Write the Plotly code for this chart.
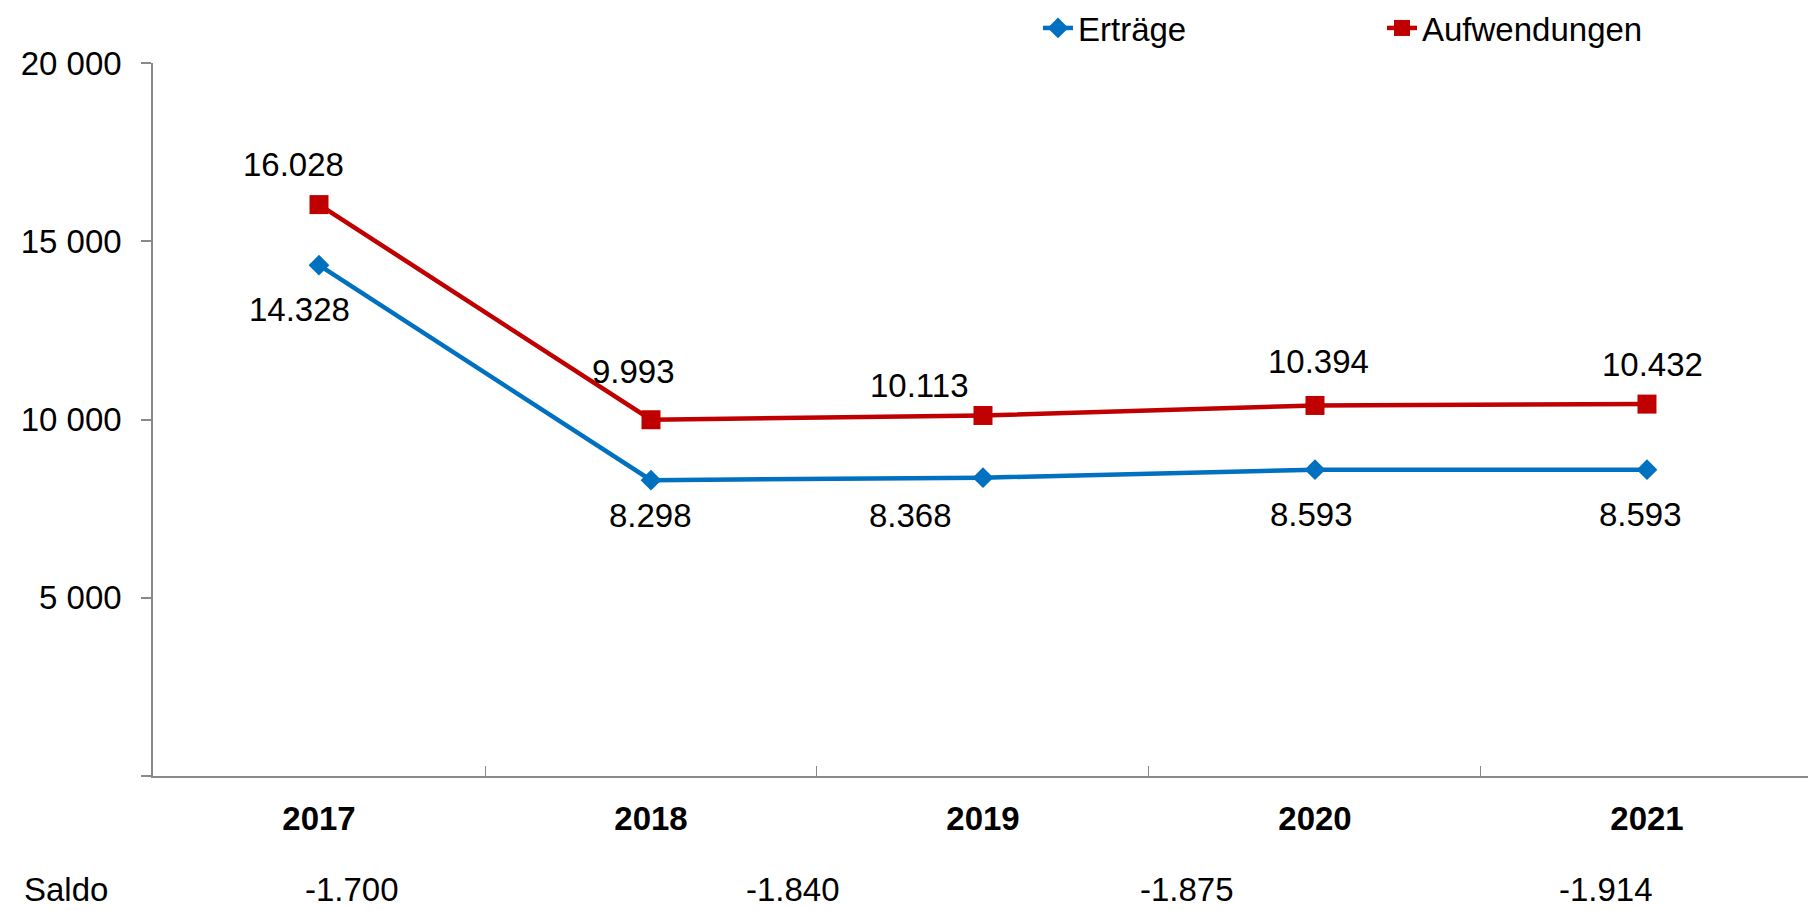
import plotly.graph_objects as go

years = ["2017", "2018", "2019", "2020", "2021"]
ertraege = [14328, 8298, 8368, 8593, 8593]
aufwendungen = [16028, 9993, 10113, 10394, 10432]
ertraege_labels = ["14.328", "8.298", "8.368", "8.593", "8.593"]
aufw_labels = ["16.028", "9.993", "10.113", "10.394", "10.432"]
saldo_label = "Saldo"
saldo_values = ["-1.700", "-1.840", "-1.875", "-1.914"]
y_tickvals = [0, 5000, 10000, 15000, 20000]
y_ticktext = ["", "5 000", "10 000", "15 000", "20 000"]

# layout-only helpers (label placements, in pixels / axis units)
aufw_shift = [(-26, 40), (-17, 48), (-64, 30), (4, 44), (6, 40)]
ertr_shift = [(-20, -44), (0, -35), (-72, -38), (-3, -45), (-6, -45)]
saldo_pos = [0.099, 1.428, 2.613, 3.877]
SALDO_Y = (776 - 909) / 713

BLUE = "#0070C0"
RED = "#C00000"
GRAY = "#898989"
FONT = "Liberation Sans, Arial, sans-serif"
FS = 33

xs = list(range(len(years)))

fig = go.Figure()
fig.add_trace(go.Scatter(
    x=xs, y=ertraege, name="Erträge", mode="lines+markers",
    line=dict(color=BLUE, width=4.5),
    marker=dict(symbol="diamond", size=16, color=BLUE),
))
fig.add_trace(go.Scatter(
    x=xs, y=aufwendungen, name="Aufwendungen", mode="lines+markers",
    line=dict(color=RED, width=4.5),
    marker=dict(symbol="square", size=19, color=RED),
))

ann = []
for i, (v, t) in enumerate(zip(aufwendungen, aufw_labels)):
    dx, dy = aufw_shift[i]
    ann.append(dict(x=xs[i], y=v, text=t, showarrow=False, xshift=dx, yshift=dy,
                    font=dict(family=FONT, size=FS, color="black")))
for i, (v, t) in enumerate(zip(ertraege, ertraege_labels)):
    dx, dy = ertr_shift[i]
    ann.append(dict(x=xs[i], y=v, text=t, showarrow=False, xshift=dx, yshift=dy,
                    font=dict(family=FONT, size=FS, color="black")))
for p, t in zip(saldo_pos, saldo_values):
    ann.append(dict(x=p, xref="x", y=SALDO_Y, yref="paper", text=t, showarrow=False,
                    yanchor="bottom", borderpad=0,
                    font=dict(family=FONT, size=FS, color="black")))
ann.append(dict(x=(23 - 153) / (1808 - 153), xref="paper", y=SALDO_Y, yref="paper",
                text=saldo_label, showarrow=False, borderpad=0,
                xanchor="left", yanchor="bottom", font=dict(family=FONT, size=FS, color="black")))

fig.update_layout(
    width=1808, height=911,
    margin=dict(l=153, r=0, t=63, b=135, autoexpand=False),
    paper_bgcolor="white", plot_bgcolor="white",
    font=dict(family=FONT, size=FS, color="black"),
    showlegend=True,
    legend=dict(orientation="h", xref="container", yref="container",
                x=1038 / 1808, y=1, xanchor="left", yanchor="top",
                entrywidth=299, entrywidthmode="pixels",
                font=dict(family=FONT, size=FS, color="black"),
                bgcolor="rgba(0,0,0,0)", borderwidth=0, tracegroupgap=0),
    annotations=ann,
    xaxis=dict(
        range=[-0.5, 4.485], tickmode="array", tickvals=xs, ticktext=years,
        ticks="", showgrid=False, zeroline=False,
        showline=True, linecolor=GRAY, linewidth=2,
        tickfont=dict(family=FONT, size=FS, color="black", weight="bold"),
        ticklabelstandoff=12,
        minor=dict(ticks="inside", tickmode="array", tickvals=[0.5, 1.5, 2.5, 3.5],
                   ticklen=10, tickwidth=1, tickcolor=GRAY, showgrid=False),
    ),
    yaxis=dict(
        range=[0, 20000], tickmode="array", tickvals=y_tickvals, ticktext=y_ticktext,
        ticks="outside", ticklen=10, tickwidth=1.5, tickcolor=GRAY,
        showgrid=False, zeroline=False,
        showline=True, linecolor=GRAY, linewidth=1.5,
        tickfont=dict(family=FONT, size=FS, color="black"),
        ticklabelstandoff=13,
    ),
)

fig.write_html("out.html", config={"displayModeBar": False},
               post_script="document.body.style.margin='0';")
